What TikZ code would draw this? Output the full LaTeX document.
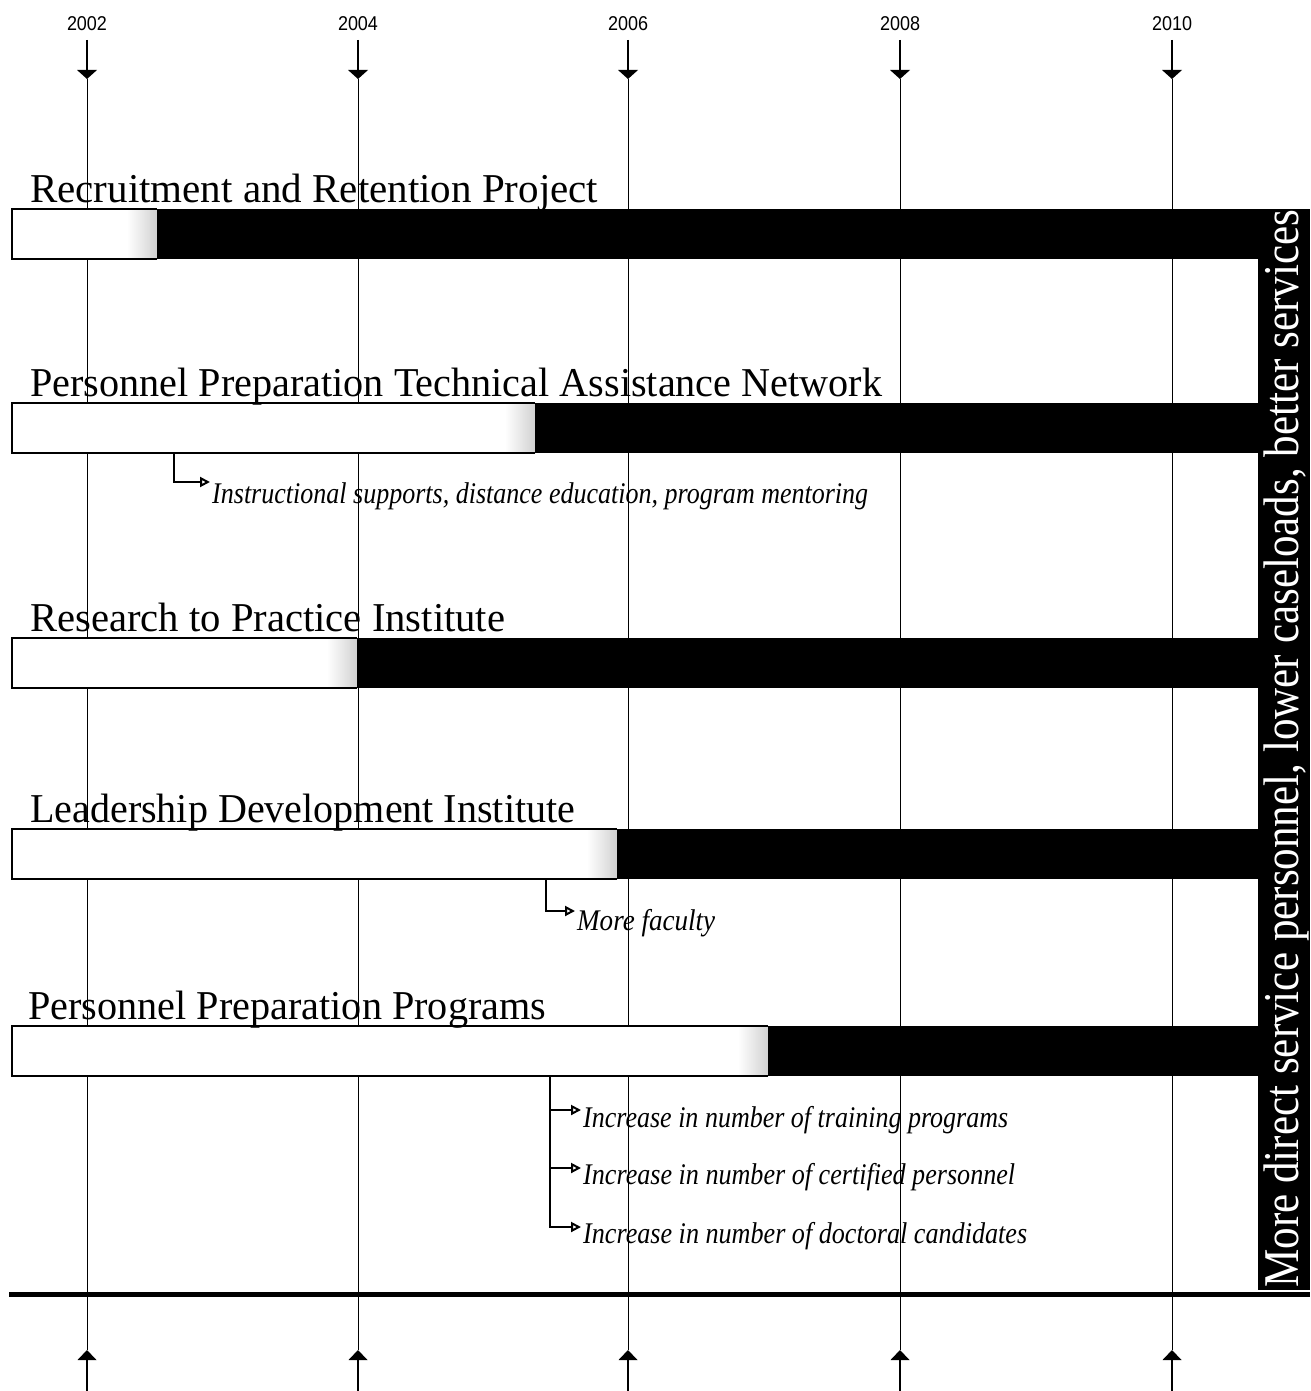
\documentclass[tikz,border=0pt]{standalone}
\usepackage{fontspec}
\setmainfont{Liberation Serif}
\newfontfamily\yearfont{Liberation Sans}
\usetikzlibrary{arrows.meta}
\begin{document}
\begin{tikzpicture}[x=1pt,y=-1pt,
  title/.style={anchor=base west, inner sep=0pt, font=\fontsize{41}{41}\selectfont},
  note/.style={anchor=base west, inner sep=0pt, font=\fontsize{30}{30}\selectfont\itshape},
  yearlbl/.style={anchor=base, inner sep=0pt, font=\yearfont\fontsize{20}{20}\selectfont},
  yline/.style={line width=1pt},
  stem/.style={line width=2pt},
  barline/.style={line width=1.5pt},
  bracket/.style={line width=1.3pt, -{Triangle[open, length=10pt, width=10pt, line width=2pt]}},
]
\useasboundingbox[fill=white] (0,0) rectangle (1310,1391);

% year markers and guide lines
\foreach \x/\yr in {87/2002, 358/2004, 628/2006, 900/2008, 1172/2010} {
  \node[yearlbl] (y\yr) at (\x,31) {\resizebox{40pt}{\height}{\yr}};
  \coordinate (ts\yr) at (\x,40);
  \coordinate (tb\yr) at (\x,70);
  \coordinate (tt\yr) at (\x,79);
  \coordinate (bt\yr) at (\x,1350);
  \coordinate (bb\yr) at (\x,1360);
  \coordinate (be\yr) at (\x,1391);
  \draw[yline] (tt\yr) -- (bt\yr);
  \draw[stem] (ts\yr) -- (tb\yr);
  \fill ([xshift=-10pt]tb\yr) -- ([xshift=10pt]tb\yr) -- (tt\yr) -- cycle;
  \fill ([xshift=-9.5pt]bb\yr) -- ([xshift=9.5pt]bb\yr) -- (bt\yr) -- cycle;
  \draw[stem] (bb\yr) -- (be\yr);
}

% bars
\foreach \top/\wend in {209/157, 403/535, 638/357, 829/617, 1026/768} {
  \fill[white] (12,\top) rectangle (\wend,\top+50);
  \shade[left color=white, right color=black!18] (\wend-30,\top) rectangle (\wend,\top+50);
  \draw[barline] (\wend,\top) -- (12,\top) -- (12,\top+50) -- (\wend,\top+50);
  \fill[black] (\wend,\top) rectangle (1310,\top+50);
}

% right vertical bar
\fill[black] (1258,209) rectangle (1310,1290);
\node[rotate=90, anchor=base west, inner sep=0pt, text=white,
      font=\fontsize{50}{50}\selectfont] (outcome) at (1298,1288)
  {\resizebox{1078pt}{\height}{More direct service personnel, lower caseloads, better services}};

% bottom rule
\coordinate (rl) at (9,1294.5);
\coordinate (rr) at (1310,1294.5);
\draw[line width=4.5pt] (rl) -- (rr);

% titles
\node[title] (p1) at (30,203) {\resizebox{568pt}{\height}{Recruitment and Retention Project}};
\node[title] (p2) at (30,396) {\resizebox{852pt}{\height}{Personnel Preparation Technical Assistance Network}};
\node[title] (p3) at (30,631) {\resizebox{475pt}{\height}{Research to Practice Institute}};
\node[title] (p4) at (30,822) {\resizebox{545pt}{\height}{Leadership Development Institute}};
\node[title] (p5) at (28,1019) {\resizebox{518pt}{\height}{Personnel Preparation Programs}};

% notes
\coordinate (s2) at (174,453);
\node[note] (n1) at (212,503) {\resizebox{656pt}{\height}{Instructional supports, distance education, program mentoring}};
\draw[bracket] (s2) |- ([xshift=-2pt,yshift=21pt]n1.base west);

\coordinate (s4) at (546,879);
\node[note] (n2) at (577,930) {\resizebox{138pt}{\height}{More faculty}};
\draw[bracket] (s4) |- ([xshift=-2pt,yshift=19pt]n2.base west);

\coordinate (s5) at (550,1077);
\node[note] (n3) at (583,1127) {\resizebox{425pt}{\height}{Increase in number of training programs}};
\node[note] (n4) at (583,1184) {\resizebox{432pt}{\height}{Increase in number of certified personnel}};
\node[note] (n5) at (583,1243) {\resizebox{444pt}{\height}{Increase in number of doctoral candidates}};
\draw[bracket] (s5) |- ([xshift=-2pt,yshift=17pt]n3.base west);
\draw[bracket] (s5) |- ([xshift=-2pt,yshift=16pt]n4.base west);
\draw[bracket] (s5) |- ([xshift=-2pt,yshift=16pt]n5.base west);
\end{tikzpicture}
\end{document}
